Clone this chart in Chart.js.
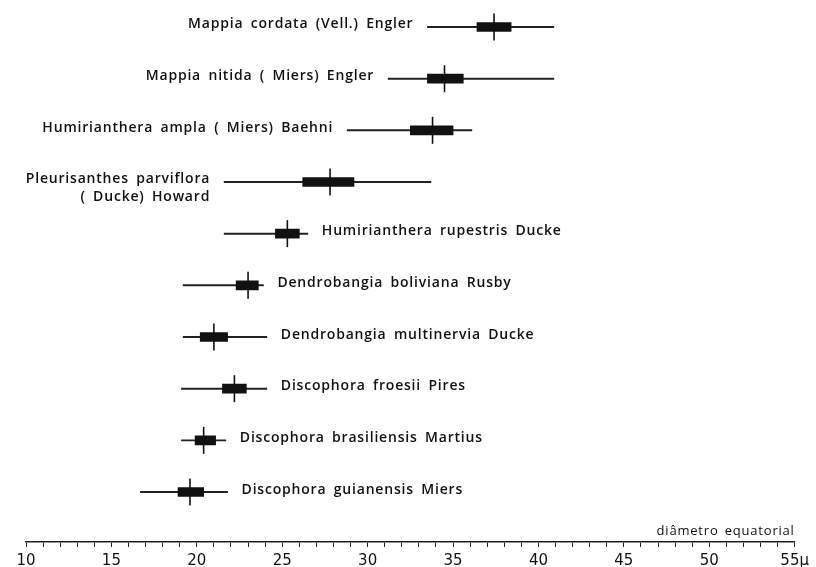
<!DOCTYPE html>
<html>
<head>
<meta charset="utf-8">
<script src="https://cdn.jsdelivr.net/npm/chart.js@4/dist/chart.umd.min.js"></script>
<style>
  html, body { margin: 0; padding: 0; background: #fff; }
  #wrap { width: 816px; height: 567px; position: relative; }
</style>
</head>
<body>
<div id="wrap"><canvas id="c" width="816" height="567"></canvas></div>
<script>
// ---- data ----
const species = [
  'Mappia cordata (Vell.) Engler',
  'Mappia nitida ( Miers) Engler',
  'Humirianthera ampla ( Miers) Baehni',
  'Pleurisanthes parviflora\n( Ducke) Howard',
  'Humirianthera rupestris Ducke',
  'Dendrobangia boliviana Rusby',
  'Dendrobangia multinervia Ducke',
  'Discophora froesii Pires',
  'Discophora brasiliensis Martius',
  'Discophora guianensis Miers'
];
const rangeMin = [33.5, 31.2, 28.8, 21.6, 21.6, 19.2, 19.2, 19.1, 19.1, 16.7];
const rangeMax = [40.9, 40.9, 36.1, 33.7, 26.5, 23.9, 24.1, 24.1, 21.7, 21.8];
const boxLow   = [36.4, 33.5, 32.5, 26.2, 24.6, 22.3, 20.2, 21.5, 19.9, 18.9];
const boxHigh  = [38.4, 35.6, 35.0, 29.2, 26.0, 23.6, 21.8, 22.9, 21.1, 20.4];
const meanVal  = [37.4, 34.5, 33.8, 27.8, 25.3, 23.0, 21.0, 22.2, 20.4, 19.6];
const tickValues = [10, 15, 20, 25, 30, 35, 40, 45, 50, 55];
const tickLabels = ['10', '15', '20', '25', '30', '35', '40', '45', '50', '55µ'];
const axisTitle = 'diâmetro equatorial';

// ---- build datasets ----
const rows = species.map((_, i) => i);
const rangeData = rows.map(i => ({ x: [rangeMin[i], rangeMax[i]], y: i }));
const boxData   = rows.map(i => ({ x: [boxLow[i], boxHigh[i]], y: i }));
const meanData  = rows.map(i => ({ x: meanVal[i], y: i }));

const INK = '#111';
const LABEL_FONT = '600 14px "Open Sans"';
const LEFT_ROWS = 4; // first rows are labelled on the left of their range line

const labelPlugin = {
  id: 'speciesLabels',
  afterDatasetsDraw(chart) {
    const { ctx, scales: { x, y }, chartArea } = chart;
    ctx.save();
    ctx.fillStyle = INK;
    ctx.font = LABEL_FONT;
    ctx.letterSpacing = '0.8px';
    ctx.wordSpacing = '3px';
    ctx.textBaseline = 'middle';
    species.forEach((name, i) => {
      const lineY = y.getPixelForValue(i);
      const lines = name.split('\n');
      const lh = 18;
      const y0 = lines.length > 1 ? lineY - 3 : lineY - 2.5;
      if (i < LEFT_ROWS) {
        ctx.textAlign = 'right';
        const px = x.getPixelForValue(rangeMin[i]) - 14;
        lines.forEach((t, k) => ctx.fillText(t, px, y0 + k * lh));
      } else {
        ctx.textAlign = 'left';
        const px = x.getPixelForValue(rangeMax[i]) + 14;
        lines.forEach((t, k) => ctx.fillText(t, px, y0 + k * lh));
      }
    });
    // axis title
    ctx.font = '13px "Open Sans"';
    ctx.letterSpacing = '0.8px';
    ctx.wordSpacing = '2px';
    ctx.textAlign = 'right';
    ctx.textBaseline = 'middle';
    ctx.fillText(axisTitle, chartArea.right, chartArea.bottom - 11);
    ctx.restore();
  }
};

new Chart(document.getElementById('c'), {
  type: 'bar',
  data: {
    datasets: [
      {
        label: 'mean',
        type: 'line',
        data: meanData,
        showLine: false,
        pointStyle: 'line',
        rotation: 90,
        radius: 13.5,
        hoverRadius: 13.5,
        borderColor: INK,
        backgroundColor: INK,
        borderWidth: 1.6,
        order: 1,
        clip: false
      },
      {
        label: 'box',
        data: boxData,
        backgroundColor: INK,
        borderWidth: 0,
        barThickness: 9,
        grouped: false,
        order: 2
      },
      {
        label: 'range',
        data: rangeData,
        backgroundColor: '#222',
        borderWidth: 0,
        barThickness: 1.3,
        grouped: false,
        order: 3
      }
    ]
  },
  options: {
    indexAxis: 'y',
    responsive: false,
    animation: false,
    events: [],
    layout: { autoPadding: false, padding: { left: 26, right: 21, top: 1, bottom: 0 } },
    plugins: { legend: { display: false }, tooltip: { enabled: false } },
    scales: {
      y: {
        type: 'linear',
        reverse: true,
        offset: false,
        min: -0.503,
        max: 9.967,
        display: false
      },
      x: {
        type: 'linear',
        position: 'bottom',
        min: 10,
        max: 55,
        afterFit: (scale) => { scale.height = 25; },
        border: { display: true, color: '#222', width: 1.6 },
        grid: { display: true, drawOnChartArea: false, drawTicks: true, tickLength: 5, color: '#222', lineWidth: 1 },
        ticks: {
          stepSize: 1,
          autoSkip: false,
          maxRotation: 0,
          padding: 7,
          color: INK,
          font: { family: 'DejaVu Sans', size: 15, lineHeight: 1 },
          callback: (v) => {
            const k = tickValues.indexOf(v);
            return k >= 0 ? tickLabels[k] : '';
          }
        }
      }
    }
  },
  plugins: [labelPlugin]
});
</script>
</body>
</html>
